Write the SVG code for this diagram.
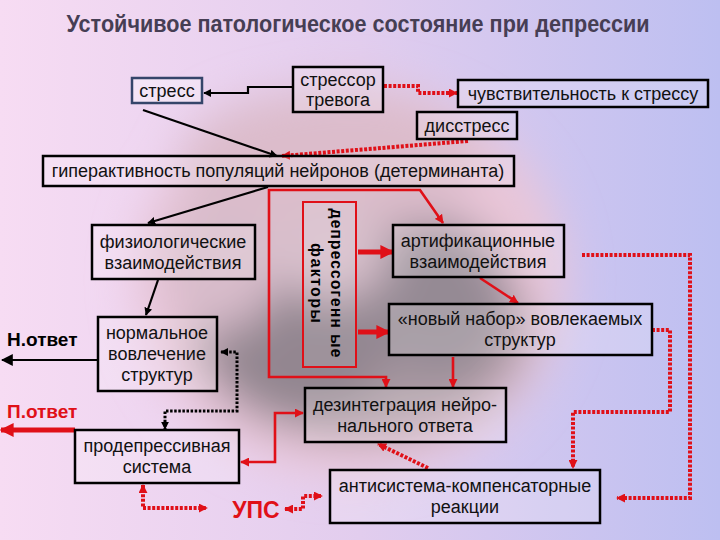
<svg xmlns="http://www.w3.org/2000/svg" width="720" height="540" viewBox="0 0 720 540">
<defs>
<linearGradient id="bg" x1="0" y1="0" x2="1" y2="0">
<stop offset="0" stop-color="#f7dcf3"/>
<stop offset="0.5" stop-color="#e2cdee"/>
<stop offset="1" stop-color="#bdbff1"/>
</linearGradient>
<filter id="blur" x="-30%" y="-30%" width="160%" height="160%"><feGaussianBlur stdDeviation="22"/></filter>
<marker id="ab" viewBox="0 0 10 10" refX="9" refY="5" markerWidth="8" markerHeight="8" markerUnits="userSpaceOnUse" orient="auto-start-reverse"><path d="M0,0 L10,5 L0,10 z" fill="#000"/></marker>
<marker id="abL" viewBox="0 0 10 10" refX="9" refY="5" markerWidth="12" markerHeight="12" markerUnits="userSpaceOnUse" orient="auto-start-reverse"><path d="M0,0 L10,5 L0,10 z" fill="#000"/></marker>
<marker id="ar" viewBox="0 0 10 10" refX="9" refY="5" markerWidth="9" markerHeight="9" markerUnits="userSpaceOnUse" orient="auto-start-reverse"><path d="M0,0 L10,5 L0,10 z" fill="#e01018"/></marker>
<marker id="arL" viewBox="0 0 10 10" refX="9" refY="5" markerWidth="14" markerHeight="14" markerUnits="userSpaceOnUse" orient="auto-start-reverse"><path d="M0,0 L10,5 L0,10 z" fill="#e01018"/></marker>
</defs>
<style>
.box{fill:#ffffff;fill-opacity:0.18;stroke:#000;stroke-width:2.5}
.t{font-family:"Liberation Sans",Arial,sans-serif;font-size:18px;fill:#111;text-anchor:middle}
.b{font-family:"Liberation Sans",Arial,sans-serif;font-weight:bold}
.ln{fill:none;stroke:#000;stroke-width:2.2}
.rd{fill:none;stroke:#e01018;stroke-width:4;stroke-dasharray:3 1.6}
.rs{fill:none;stroke:#e01018;stroke-width:2.6}
.rt{fill:none;stroke:#e01018;stroke-width:5}
.bd{fill:none;stroke:#000;stroke-width:3;stroke-dasharray:2.5 1.6}
</style>
<rect width="720" height="540" fill="url(#bg)"/>
<g filter="url(#blur)">
<ellipse cx="350" cy="280" rx="215" ry="195" fill="#e9c6d8"/>
<ellipse cx="330" cy="160" rx="150" ry="70" fill="#dcbccb"/>
<ellipse cx="360" cy="330" rx="170" ry="110" fill="#ad9ba5"/>
<ellipse cx="300" cy="350" rx="90" ry="70" fill="#938690"/>
<ellipse cx="440" cy="300" rx="70" ry="80" fill="#958a94"/>
<ellipse cx="220" cy="260" rx="60" ry="70" fill="#d8bccb"/>
<ellipse cx="330" cy="250" rx="60" ry="50" fill="#d8c0cc"/>
</g>
<text x="358" y="32" class="b" font-size="23" fill="#463e54" text-anchor="middle" textLength="583" lengthAdjust="spacingAndGlyphs">Устойчивое патологическое состояние при депрессии</text>
<g id="connectors">
<polyline class="ln" points="293,87 248,87 248,93 204,93" marker-end="url(#ab)"/>
<line class="ln" x1="143" y1="110" x2="277" y2="156" marker-end="url(#ab)"/>
<polyline class="rd" points="384,86 418,86 418,93 457,93" marker-end="url(#ar)"/>
<line class="rd" x1="468" y1="141" x2="282" y2="156" marker-end="url(#ar)"/>
<line class="ln" x1="268" y1="187" x2="148" y2="223" marker-end="url(#ab)"/>
<line class="ln" x1="158" y1="280" x2="146" y2="315" marker-end="url(#ab)"/>
<line class="ln" stroke-width="3.5" x1="98" y1="360" x2="2" y2="360" marker-end="url(#abL)"/>
<polyline class="rs" stroke-width="3" points="443,223 420,190 269,190 269,377 386,377 386,387" marker-start="url(#ar)" marker-end="url(#ar)"/>
<line class="rt" x1="358" y1="252" x2="393" y2="252" marker-end="url(#arL)"/>
<line class="rt" x1="358" y1="332" x2="389" y2="332" marker-end="url(#arL)"/>
<line class="rs" x1="480" y1="278" x2="518" y2="303" marker-end="url(#ar)"/>
<polyline class="rd" points="582,255 690,255 690,498 617,498" marker-end="url(#ar)"/>
<polyline class="rd" points="652,330 670,330 670,412 573,412 573,468" marker-end="url(#ar)"/>
<line class="rs" x1="453" y1="357" x2="453" y2="387" marker-end="url(#ar)"/>
<polyline class="rs" stroke-width="3" points="303,413 275,413 275,462 241,462" marker-start="url(#ar)" marker-end="url(#ar)"/>
<line class="rt" x1="75" y1="430" x2="1" y2="430" marker-end="url(#arL)"/>
<polyline class="bd" points="221,352 237,352 237,411 165,411 165,429" marker-start="url(#ab)" marker-end="url(#ab)"/>
<polyline class="rd" points="143,485 143,508 207,508" marker-start="url(#ar)" marker-end="url(#ar)"/>
<polyline class="rd" points="285,509 303,509 303,496 322,496" marker-start="url(#ar)" marker-end="url(#ar)"/>
<line class="rd" x1="428" y1="468" x2="378" y2="444" marker-end="url(#ar)"/>
</g>
<g id="stress"><rect class="box" x="132" y="78" width="70" height="25" style="stroke:#35456a;fill-opacity:0.35"/><text class="t" x="167" y="97">стресс</text></g>
<g id="stressor"><rect class="box" x="293" y="67" width="90" height="45"/><text class="t" x="338" y="86">стрессор</text><text class="t" x="338" y="106">тревога</text></g>
<g id="sensitivity"><rect class="box" x="458" y="80" width="250" height="27"/><text class="t" x="583" y="100">чувствительность к стрессу</text></g>
<g id="distress"><rect class="box" x="417" y="112" width="100" height="27"/><text class="t" x="467" y="132">дисстресс</text></g>
<g id="hyper"><rect class="box" x="43" y="156" width="471" height="30"/><text class="t" x="278" y="177">гиперактивность популяций нейронов (детерминанта)</text></g>
<g id="physio"><rect class="box" x="92" y="225" width="163" height="54"/><text class="t" x="173" y="248">физиологические</text><text class="t" x="173" y="269">взаимодействия</text></g>
<g id="normal"><rect class="box" x="98" y="317" width="119" height="74"/><text class="t" x="157" y="339">нормальное</text><text class="t" x="157" y="360">вовлечение</text><text class="t" x="157" y="381">структур</text></g>
<g id="n-otvet"><text class="b" x="7" y="346" font-size="19" fill="#000">Н.ответ</text></g>
<g id="depressogenic"><rect x="303" y="202" width="53" height="165" fill="#ffffff" fill-opacity="0.1" stroke="#e01018" stroke-width="2"/>
<g transform="translate(330,283) rotate(90)"><text class="b" x="0" y="-1" font-size="16" text-anchor="middle" fill="#000" textLength="149" lengthAdjust="spacing">депрессогенн ые</text><text class="b" x="0" y="19" font-size="16" text-anchor="middle" fill="#000" textLength="80" lengthAdjust="spacing">факторы</text></g></g>
<g id="artif"><rect class="box" x="393" y="225" width="171" height="52"/><text class="t" x="478" y="247">артификационные</text><text class="t" x="478" y="268">взаимодействия</text></g>
<g id="newset"><rect class="box" x="389" y="304" width="263" height="51"/><text class="t" x="520" y="325">«новый набор» вовлекаемых</text><text class="t" x="520" y="346">структур</text></g>
<g id="disint"><rect class="box" x="305" y="388" width="201" height="54"/><text class="t" x="405" y="411">дезинтеграция нейро-</text><text class="t" x="405" y="432">нального ответа</text></g>
<g id="p-otvet"><text class="b" x="7" y="418" font-size="19" fill="#e01018">П.ответ</text></g>
<g id="prodep"><rect class="box" x="75" y="430" width="164" height="53"/><text class="t" x="157" y="452">продепрессивная</text><text class="t" x="157" y="473">система</text></g>
<g id="ups"><text class="b" x="256" y="518" font-size="23" fill="#e01018" text-anchor="middle">УПС</text></g>
<g id="anti"><rect class="box" x="330" y="470" width="270" height="53"/><text class="t" x="465" y="492">антисистема-компенсаторные</text><text class="t" x="465" y="513">реакции</text></g>
</svg>
